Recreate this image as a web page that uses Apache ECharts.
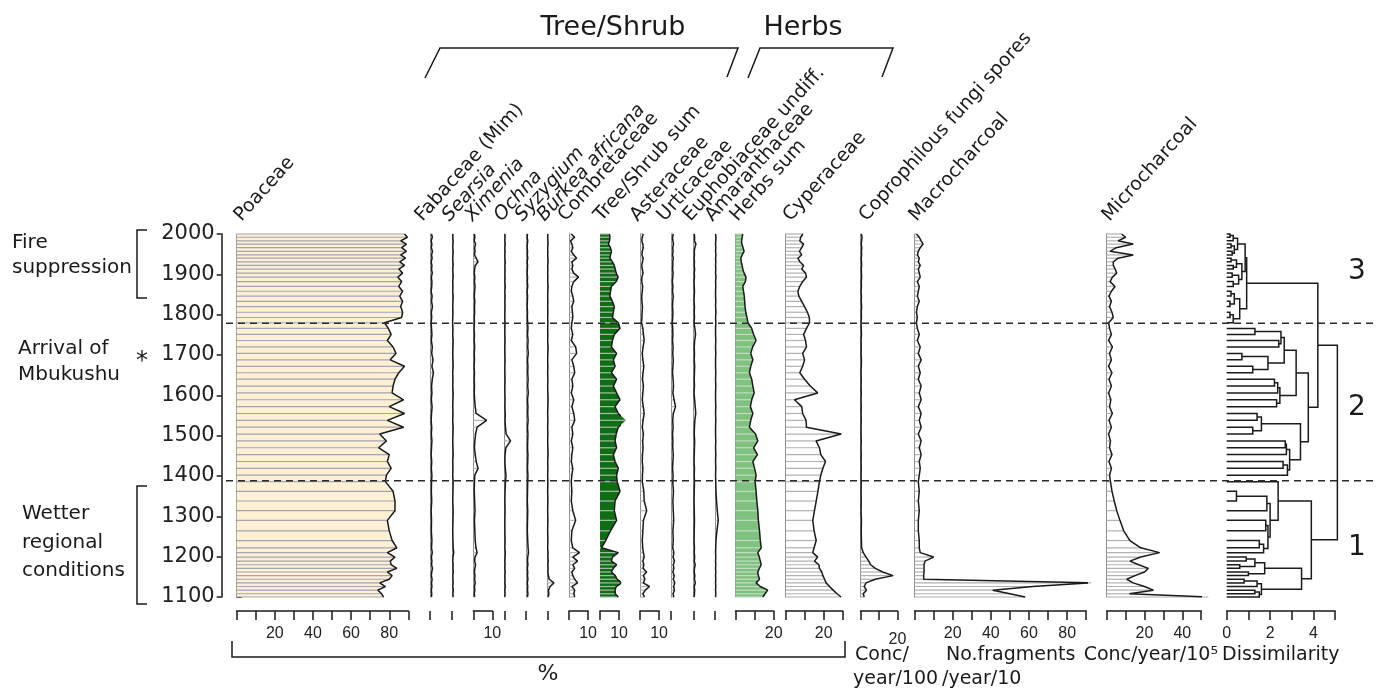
<!DOCTYPE html>
<html>
<head>
<meta charset="utf-8">
<script src="https://cdn.jsdelivr.net/npm/echarts@6/dist/echarts.min.js"></script>
<style>
  html, body { margin: 0; padding: 0; background: #fff; }
  #chart { width: 1376px; height: 688px; }
</style>
</head>
<body>
<div id="chart"></div>
<script>
// Sample ages (years AD), top of core to base
const AGES = [
  2000, 1992, 1983, 1975, 1966, 1957, 1948, 1940, 1931, 1922,
  1913, 1903, 1893, 1882, 1870, 1858, 1846, 1833, 1820, 1806,
  1793, 1780, 1766, 1751, 1736, 1720, 1704, 1688, 1672, 1656,
  1640, 1623, 1606, 1589, 1572, 1555, 1538, 1521, 1504, 1487,
  1470, 1453, 1436, 1419, 1402, 1386, 1362, 1338, 1314, 1290,
  1264, 1240, 1222, 1210, 1199, 1189, 1180, 1171, 1162, 1153,
  1144, 1135, 1126, 1117, 1108, 1100
];

// Pollen percentages
const POACEAE = [
  88, 89.5, 86, 89, 86.5, 89, 86, 88.5, 85.5, 88,
  85, 87, 84.5, 86.5, 85, 87, 85.5, 87, 86, 87,
  86.5, 77.5, 79.5, 81, 79, 82, 83.5, 80.5, 88, 85,
  83, 82, 81.5, 87.5, 80, 88, 79, 87.5, 75, 78.5,
  74.5, 80, 79, 81, 78.5, 78, 82, 83, 83, 79,
  80, 81.5, 84, 79, 83, 80.5, 81, 84, 79, 81.5,
  80, 75, 78, 74, 76, 77
];
const FABACEAE = [
  0.8, 1.2, 0.6, 1.0, 0.7, 1.3, 0.8, 1.1, 0.6, 1.0,
  0.8, 1.2, 0.7, 1.0, 0.9, 0.6, 1.1, 0.8, 1.3, 0.7,
  0.9, 0.6, 0.8, 1.0, 0.7, 1.2, 0.9, 1.6, 1.0, 1.8,
  1.2, 0.8, 1.0, 0.7, 1.1, 0.8, 0.6, 0.9, 0.7, 1.0,
  0.8, 0.6, 0.9, 0.7, 1.0, 0.8, 0.7, 0.9, 0.6, 0.8,
  0.7, 1.0, 0.8, 1.2, 0.7, 1.0, 0.8, 1.3, 0.9, 0.7,
  1.1, 0.8, 1.0, 0.7, 0.9, 0.8
];
const SEARSIA = [
  0.5, 0.4, 0.6, 0.5, 0.4, 0.6, 0.5, 0.4, 0.5, 0.6,
  0.4, 0.5, 0.6, 0.4, 0.5, 0.4, 0.6, 0.5, 0.4, 0.5,
  0.4, 0.3, 0.5, 0.4, 0.6, 0.5, 0.4, 0.5, 0.6, 0.4,
  0.5, 0.4, 0.6, 0.5, 0.4, 0.5, 0.4, 0.6, 0.5, 0.4,
  0.5, 0.6, 0.4, 0.5, 0.4, 0.6, 0.5, 0.4, 0.6, 0.5,
  0.4, 0.5, 0.6, 0.9, 0.5, 0.4, 0.6, 0.5, 0.7, 0.4,
  0.5, 0.6, 0.4, 0.7, 0.5, 0.6
];
const XIMENIA = [
  0.6, 0.8, 0.5, 1.2, 0.7, 0.9, 0.6, 1.5, 2.5, 1.0,
  0.7, 0.5, 0.8, 0.6, 0.9, 0.7, 0.5, 0.8, 0.6, 0.7,
  0.5, 0.6, 0.4, 0.6, 0.5, 0.7, 0.5, 0.6, 0.4, 0.6,
  0.5, 0.6, 0.5, 0.7, 1.0, 1.5, 7.0, 2.0, 1.2, 0.8,
  0.6, 1.0, 1.5, 2.5, 0.8, 0.6, 0.5, 0.7, 0.9, 0.6,
  0.8, 1.0, 1.4, 2.0, 0.9, 0.7, 1.2, 0.8, 0.6, 0.9,
  0.7, 1.0, 0.6, 0.8, 0.5, 0.7
];
const OCHNA = [
  0.3, 0.4, 0.3, 0.5, 0.3, 0.4, 0.3, 0.3, 0.5, 0.3,
  0.4, 0.3, 0.4, 0.3, 0.5, 0.3, 0.4, 0.3, 0.4, 0.3,
  0.3, 0.4, 0.3, 0.3, 0.4, 0.3, 0.3, 0.4, 0.3, 0.3,
  0.4, 0.3, 0.3, 0.4, 0.3, 0.5, 0.4, 0.6, 1.0, 3.3,
  0.8, 0.4, 0.3, 0.5, 0.9, 0.6, 0.4, 0.3, 0.4, 0.3,
  0.3, 0.4, 0.3, 0.5, 0.4, 0.3, 0.4, 0.3, 0.5, 0.3,
  0.4, 0.3, 0.5, 0.3, 0.4, 0.3
];
const SYZYGIUM = [
  0.8, 0.6, 0.9, 0.7, 0.6, 0.8, 0.7, 0.9, 0.6, 0.8,
  0.7, 0.6, 0.8, 0.7, 0.9, 0.6, 0.8, 0.7, 0.6, 0.8,
  0.7, 0.9, 1.0, 0.8, 1.1, 0.9, 1.2, 0.8, 1.0, 0.9,
  1.1, 0.9, 1.2, 0.8, 1.0, 0.9, 1.1, 0.8, 1.0, 0.9,
  0.8, 1.0, 0.9, 0.8, 1.0, 0.9, 0.8, 0.7, 0.9, 0.8,
  0.7, 0.9, 1.1, 1.3, 0.9, 0.8, 1.0, 0.7, 0.9, 0.8,
  1.0, 0.7, 0.9, 0.8, 1.0, 0.8
];
const BURKEA = [
  0.3, 0.2, 0.3, 0.4, 0.2, 0.3, 0.2, 0.3, 0.4, 0.2,
  0.3, 0.2, 0.3, 0.2, 0.4, 0.3, 0.2, 0.3, 0.2, 0.3,
  0.2, 0.3, 0.2, 0.3, 0.2, 0.4, 0.3, 0.2, 0.3, 0.2,
  0.3, 0.2, 0.3, 0.4, 0.3, 0.2, 0.3, 0.2, 0.3, 0.2,
  0.3, 0.4, 0.2, 0.3, 0.2, 0.3, 0.2, 0.3, 0.2, 0.3,
  0.2, 0.3, 0.2, 0.4, 0.3, 0.5, 0.3, 0.4, 0.3, 0.6,
  1.0, 3.5, 1.5, 0.6, 0.8, 0.5
];
const COMBRETACEAE = [
  1.2, 3, 0.8, 1.5, 2, 1.2, 2.5, 4, 1.5, 2,
  1.5, 2.5, 5, 2.5, 1.5, 1.2, 2, 2.5, 1.5, 1.8,
  2, 1.5, 1.2, 2, 1.2, 3.5, 4, 1.5, 2.5, 3,
  1.5, 2, 1.2, 2.5, 1.5, 2.5, 3, 1.5, 2, 1.2,
  2, 1.5, 1.2, 2, 1.5, 1.2, 1.5, 1.2, 2, 3.5,
  1.5, 1.2, 2, 5.5, 2, 4.5, 2, 3, 1.5, 2,
  3, 4.5, 1.5, 3, 2.5, 3
];
const TREE_SHRUB_SUM = [
  5, 5.2, 5, 4.4, 5.5, 6, 5.5, 5.2, 6.5, 7.5,
  8, 8.5, 9.5, 8.5, 6, 5.5, 5.2, 6.5, 7.5, 7,
  6.5, 9.6, 10.5, 7.5, 6.5, 6, 8.7, 7, 7.9, 6,
  8.7, 7, 8.7, 10.5, 7.9, 9.6, 13.6, 9.6, 8.5, 7.9,
  8.7, 7, 7.9, 9.6, 8.7, 9, 10.5, 7.9, 7.5, 8.7,
  5.5, 3, 0.8, 9.6, 6.5, 6, 8.7, 7, 6, 8,
  9, 11.4, 8.5, 7.9, 8, 9.6
];
const ASTERACEAE = [
  1.7, 1.2, 0.9, 1.5, 1.7, 1.2, 1.0, 1.7, 1.3, 0.9,
  1.2, 1.6, 1.0, 0.9, 1.4, 1.2, 0.9, 1.0, 1.3, 1.1,
  1.0, 0.8, 1.5, 1.8, 2.2, 1.6, 1.2, 1.5, 2.0, 1.6,
  1.3, 1.8, 1.5, 1.2, 1.7, 2.2, 1.6, 1.2, 1.8, 1.4,
  1.6, 1.3, 1.2, 1.5, 1.3, 1.2, 2.0, 2.2, 3.5, 1.8,
  1.5, 1.2, 1.4, 1.8, 2.2, 1.5, 2.0, 1.6, 3.5, 1.8,
  2.6, 1.7, 5.0, 2.8, 1.5, 2.4
];
const URTICACEAE = [
  1.2, 0.8, 1.0, 1.3, 0.9, 1.1, 0.8, 1.2, 0.9, 1.0,
  0.8, 1.1, 0.9, 0.7, 1.0, 0.8, 1.2, 0.9, 0.8, 1.0,
  0.9, 0.7, 0.9, 1.0, 0.8, 1.1, 0.9, 1.2, 1.0, 0.8,
  1.1, 1.3, 1.0, 1.6, 2.4, 1.2, 0.9, 1.1, 0.8, 1.0,
  0.9, 1.2, 1.0, 0.8, 1.1, 0.9, 1.3, 1.0, 1.2, 1.4,
  1.0, 1.2, 0.9, 1.5, 1.1, 1.8, 1.2, 1.5, 1.0, 1.7,
  1.2, 2.0, 1.4, 1.8, 1.1, 1.5
];
const EUPHORBIACEAE = [
  0.5, 0.7, 0.6, 1.4, 0.8, 0.5, 0.6, 0.4, 0.6, 0.5,
  0.7, 0.5, 0.6, 0.4, 0.5, 0.6, 0.5, 0.4, 0.6, 0.5,
  0.6, 0.4, 0.8, 1.2, 0.7, 0.5, 0.6, 0.5, 0.7, 0.6,
  0.5, 0.6, 0.4, 0.7, 1.0, 1.3, 0.8, 0.6, 0.5, 0.7,
  0.6, 0.5, 0.4, 0.6, 0.5, 0.6, 0.5, 0.4, 0.5, 0.6,
  0.5, 0.4, 0.6, 0.5, 0.7, 0.5, 1.0, 0.6, 0.5, 0.8,
  0.6, 1.1, 0.5, 0.7, 0.6, 0.5
];
const AMARANTHACEAE = [
  0.3, 0.5, 0.4, 0.3, 0.4, 0.3, 0.5, 0.3, 0.4, 0.3,
  0.4, 0.3, 0.5, 0.3, 0.4, 0.3, 0.3, 0.4, 0.3, 0.5,
  0.3, 0.4, 0.3, 0.3, 0.4, 0.3, 0.4, 0.3, 0.3, 0.4,
  0.3, 0.4, 0.3, 0.3, 0.4, 0.3, 0.4, 0.3, 0.3, 0.4,
  0.3, 0.4, 0.3, 0.4, 0.3, 0.4, 0.5, 0.8, 1.2, 1.7,
  1.0, 0.5, 0.4, 0.3, 0.4, 0.3, 0.4, 0.3, 0.4, 0.3,
  0.4, 0.3, 0.4, 0.3, 0.4, 0.3
];
const HERBS_SUM = [
  3.8, 3.5, 3.2, 3.3, 4, 4.5, 3.5, 2.8, 3, 3.5,
  3.8, 4.5, 5.5, 5.2, 3.8, 4.2, 4.6, 4.8, 5, 5.4,
  6, 6.5, 8.5, 9.5, 10.8, 9, 8, 9.1, 8, 7.3,
  8.5, 9.1, 9.8, 8.5, 7.8, 9.1, 8, 7.3, 10.5, 11.7,
  9.5, 11.5, 9.1, 10, 10.8, 10.3, 10.8, 11.2, 11.7, 12,
  12.6, 13, 13.5, 11.7, 12.5, 13, 13.5, 12.5, 11.7, 12,
  12.6, 10.8, 13, 16.9, 15.5, 14.3
];
const CYPERACEAE = [
  9.1, 8, 7.5, 9.5, 8.5, 7.3, 8.5, 6.5, 7.5, 9.5,
  8.5, 10.5, 11, 9, 7.5, 6.5, 7, 8.5, 10, 11.5,
  12.5, 12.6, 11, 9.5, 10.5, 11, 9, 10, 9, 7.5,
  10, 13, 16.9, 4.7, 8.5, 9, 10.8, 11, 29.2, 16,
  17.8, 18.5, 21, 19.6, 18.5, 17.8, 17, 16.1, 15.2, 14.3,
  15, 16.1, 15, 14.3, 16.9, 15.2, 17.5, 17.8, 19, 19.6,
  20.5, 21.3, 23.1, 25, 27, 29.2
];

// Non-pollen proxies
const COPROPHILOUS = [
  0.5, 0.8, 0.6, 0.4, 0.7, 0.5, 0.6, 0.4, 0.5, 0.6,
  0.4, 0.5, 0.6, 0.4, 0.5, 0.3, 0.5, 0.4, 0.6, 0.4,
  0.5, 0.3, 0.4, 0.5, 0.3, 0.4, 0.3, 0.5, 0.4, 0.3,
  0.4, 0.3, 0.4, 0.3, 0.4, 0.3, 0.4, 0.3, 0.3, 0.4,
  0.3, 0.4, 0.3, 0.4, 0.3, 0.4, 0.3, 0.4, 0.3, 0.5,
  0.4, 0.5, 0.6, 1.5, 3, 4.5, 5.5, 8, 12, 17.6,
  8, 3, 2, 3.2, 1.5, 2
];
const MACROCHARCOAL = [
  1, 2.5, 3.5, 4.5, 3, 2, 1.5, 2.5, 2, 3,
  2, 2.5, 3, 1.5, 2.5, 2, 1.5, 2.5, 1.5, 1,
  1.5, 1, 1.5, 2.5, 1.5, 3, 2, 3.5, 2, 3,
  2, 3.5, 2.5, 3.5, 2, 3.5, 2.5, 3.5, 2, 3.5,
  2.5, 3.5, 2.5, 3, 2.5, 2, 2.5, 2, 2.5, 2,
  2, 2.5, 2.5, 3, 10, 5.5, 5, 5, 5, 4.8,
  4.8, 92.6, 62, 41, 50, 58
];
const MICROCHARCOAL = [
  7.9, 10, 6, 14, 5, 1.8, 14, 6, 3.5, 3.5,
  4.5, 5.3, 3, 1.8, 4.4, 2.5, 1.2, 2.5, 1.5, 2.8,
  3.5, 1, 1.5, 2.5, 1, 3, 1.5, 2.5, 1, 2.8,
  1.2, 2.5, 1, 2.2, 1.5, 3, 1.2, 2.5, 1, 2,
  1.5, 2.8, 1.2, 2.5, 1.5, 2, 2.8, 4, 5.3, 7,
  9, 12.3, 18, 28, 18, 12.3, 17, 22, 20, 15,
  10.6, 14, 20, 24.7, 12, 53.8
];

// Constrained cluster tree: [height, childA, childB]; leaves are sample indices
const ZONE3_TREE = [0.92,
  [0.85,
    [0.5, [0.3, [0.15, 0, 1], 2], [0.35, [0.2, 3, 4], [0.25, 5, 6]]],
    [0.7, [0.45, [0.2, 7, 8], [0.3, 9, 10]], [0.55, [0.25, 11, 12], [0.3, 13, 14]]]],
  [0.6, [0.35, [0.2, 15, 16], [0.15, 17, 18]], [0.3, [0.15, 19, 20], 21]]];
const ZONE2_TREE = [3.76,
  [3.2,
    [2.65, [2.5, [1.3, 22, 23], [2.4, 24, 25]], [1.9, [0.7, 26, 27], [1.2, 28, 29]]],
    [2.45, [2.35, [2.2, 30, 31], 32], [2.3, 33, 34]]],
  [3.4,
    [1.6, [1.4, 35, 36], [1.2, 37, 38]],
    [2.9, [2.75, [2.7, 39, 40], 41], [2.8, [2.6, 42, 43], 44]]]];
const ZONE1_TREE = [3.9,
  [2.37, 45, [2.0, [1.85, [0.45, 46, 47], 48], [1.9, [1.8, 49, 50], [1.7, [1.5, 51, 52], 53]]]],
  [3.45, [1.75, [1.3, [0.9, 54, 55], [0.6, 56, 57]], [1.0, 58, 59]],
         [1.6, [1.4, [0.8, 60, 61], 62], [1.5, [1.3, 63, 64], 65]]]];
const CLUSTER_TREE = [5.1, [4.2, ZONE3_TREE, ZONE2_TREE], ZONE1_TREE];

const ZONE_BOUNDARIES = [1779, 1388];
const ZONE_LABELS = ['3', '2', '1'];

const TAXA = ['Poaceae', 'Fabaceae (Mim)', 'Searsia', 'Ximenia', 'Ochna', 'Syzygium',
  'Burkea africana', 'Combretaceae', 'Tree/Shrub sum', 'Asteraceae', 'Urticaceae',
  'Euphobiaceae undiff.', 'Amaranthaceae', 'Herbs sum', 'Cyperaceae',
  'Coprophilous fungi spores', 'Macrocharcoal', 'Microcharcoal'];
const ITALIC_TAXA = ['Searsia', 'Ximenia', 'Ochna', 'Syzygium', 'Burkea africana'];

// ---- layout ----
const PCT = 1.907;           // px per percent
const TOP = 234, PLOT_H = 363;
const FONT = '"DejaVu Sans", Verdana, sans-serif';
const INK = '#1a1a1a';

const panels = [
  { series: POACEAE, left: 236.7, max: 90, scale: PCT, fill: '#fdf0d3', hatch: '#a3a3b6', interval: 10, labels: [20, 40, 60, 80] },
  { series: FABACEAE, left: 430, max: 5, scale: PCT, hatch: '#b0b0b0', single: true },
  { series: SEARSIA, left: 452, max: 5, scale: PCT, hatch: '#b0b0b0', single: true },
  { series: XIMENIA, left: 473.3, max: 10, scale: PCT, hatch: '#b0b0b0', interval: 10, labels: [10] },
  { series: OCHNA, left: 504.3, max: 5, scale: PCT, hatch: '#b0b0b0', single: true },
  { series: SYZYGIUM, left: 526, max: 5, scale: PCT, hatch: '#b0b0b0', single: true },
  { series: BURKEA, left: 547.3, max: 5, scale: PCT, hatch: '#b0b0b0', single: true },
  { series: COMBRETACEAE, left: 569, max: 10, scale: PCT, hatch: '#b0b0b0', interval: 10, labels: [10] },
  { series: TREE_SHRUB_SUM, left: 600, max: 10, scale: PCT, fill: '#0f6e14', hatch: '#a9bba9', interval: 10, labels: [10] },
  { series: ASTERACEAE, left: 640, max: 10, scale: PCT, hatch: '#b0b0b0', interval: 10, labels: [10] },
  { series: URTICACEAE, left: 671, max: 5, scale: PCT, hatch: '#b0b0b0', single: true },
  { series: EUPHORBIACEAE, left: 693.3, max: 5, scale: PCT, hatch: '#b0b0b0', single: true },
  { series: AMARANTHACEAE, left: 715, max: 5, scale: PCT, hatch: '#b0b0b0', single: true },
  { series: HERBS_SUM, left: 735.5, max: 20, scale: PCT, fill: '#7fc27f', hatch: '#c4dcc4', interval: 10, labels: [20] },
  { series: CYPERACEAE, left: 785.5, max: 30, scale: PCT, hatch: '#b0b0b0', interval: 10, labels: [20] },
  { series: COPROPHILOUS, left: 860.5, max: 20, scale: 1.85, hatch: '#b0b0b0', interval: 10, labels: [20], labelMargin: 21 },
  { series: MACROCHARCOAL, left: 914.5, max: 90, scale: 1.908, hatch: '#b0b0b0', interval: 10, labels: [20, 40, 60, 80] },
  { series: MICROCHARCOAL, left: 1106.7, max: 50, scale: 1.89, hatch: '#b0b0b0', interval: 10, labels: [20, 40] },
  { left: 1226.7, max: 5, scale: 21.7, interval: 1, labels: [0, 2, 4], noBaseline: true }
];
const HEADER_X = [245, 426, 453, 476, 505, 526, 548, 569, 605, 641, 668, 694, 716, 741, 794, 870, 920, 1113];

const grid = [], xAxis = [], yAxis = [], series = [];

function hatchRenderer(p) {
  return function (params, api) {
    const children = [];
    if (params.dataIndex === 0 && p.fill) {
      const pts = [api.coord([0, AGES[0]])];
      p.series.forEach((v, k) => pts.push(api.coord([v, AGES[k]])));
      pts.push(api.coord([0, AGES[AGES.length - 1]]));
      children.push({ type: 'polygon', shape: { points: pts }, style: { fill: p.fill } });
    }
    const a = api.coord([0, api.value(1)]);
    const b = api.coord([api.value(0), api.value(1)]);
    children.push({ type: 'line', shape: { x1: a[0], y1: a[1], x2: b[0], y2: b[1] },
      style: { stroke: p.hatch, lineWidth: 1.2 } });
    return { type: 'group', children };
  };
}

panels.forEach((p, i) => {
  grid.push({ left: p.left, top: TOP, width: p.max * p.scale, height: PLOT_H, outerBoundsMode: 'none', containLabel: false });
  xAxis.push({
    gridIndex: i, type: 'value', min: 0, max: p.max, interval: p.interval || p.max,
    position: 'bottom', offset: 14,
    axisLine: { show: !p.single, onZero: false, lineStyle: { color: INK, width: 1.5 } },
    axisTick: { show: true, length: 9, lineStyle: { color: INK, width: 1.5 }, customValues: p.single ? [0] : undefined },
    axisLabel: { show: !!p.labels, customValues: p.labels, margin: p.labelMargin || 15,
      fontSize: 16, fontFamily: 'Liberation Sans', color: '#222' },
    splitLine: { show: false }
  });
  yAxis.push({
    gridIndex: i, type: 'value', min: 1100, max: 2000,
    axisLine: { show: !p.noBaseline, onZero: false, lineStyle: { color: '#8e8e8e', width: 1 } },
    axisTick: { show: false }, axisLabel: { show: false }, splitLine: { show: false }
  });
  if (p.series) {
    const pairs = p.series.map((v, k) => [v, AGES[k]]);
    series.push({ type: 'custom', xAxisIndex: i, yAxisIndex: i, data: pairs,
      renderItem: hatchRenderer(p), silent: true, z: 2 });
    series.push({ type: 'line', xAxisIndex: i, yAxisIndex: i, data: pairs, symbol: 'none',
      clip: false, silent: true, z: 3, lineStyle: { color: INK, width: 1.5 } });
  }
});

// Age scale, offset left of the Poaceae panel
yAxis.push({
  gridIndex: 0, type: 'value', min: 1100, max: 2000, interval: 100, position: 'left', offset: 15,
  axisLine: { show: true, onZero: false, lineStyle: { color: INK, width: 1.5 } },
  axisTick: { show: true, length: 5, lineStyle: { color: INK, width: 1.5 } },
  axisLabel: { margin: 7, fontSize: 21, fontFamily: FONT, color: '#222', formatter: v => String(v) },
  splitLine: { show: false }
});
// Sample positions as inward ticks
yAxis.push({
  gridIndex: 0, type: 'value', min: 1100, max: 2000, position: 'left', offset: 15,
  axisLine: { show: false },
  axisTick: { show: true, inside: true, length: 5, customValues: AGES, lineStyle: { color: INK, width: 1 } },
  axisLabel: { show: false }, splitLine: { show: false }
});

// Dendrogram segments
const dendro = [];
function walk(node) {
  if (typeof node === 'number') return { y: AGES[node], h: 0 };
  const a = walk(node[1]), b = walk(node[2]);
  dendro.push({ coords: [[a.h, a.y], [node[0], a.y], [node[0], b.y], [b.h, b.y]] });
  return { y: (a.y + b.y) / 2, h: node[0] };
}
walk(CLUSTER_TREE);
const D = panels.length - 1;
series.push({ type: 'lines', coordinateSystem: 'cartesian2d', xAxisIndex: D, yAxisIndex: D,
  polyline: true, clip: false, data: dendro, silent: true, z: 3,
  lineStyle: { color: INK, width: 1.5, opacity: 1 } });

const chart = echarts.init(document.getElementById('chart'), null, { renderer: 'canvas' });
chart.setOption({ animation: false, backgroundColor: '#fff', grid, xAxis, yAxis, series });

// ---- annotations ----
const g = [];
function text(str, x, y, opts) {
  opts = opts || {};
  g.push({ type: 'text', x, y, rotation: opts.rot || 0, silent: true, z: 50,
    style: { text: str, font: (opts.style || '') + ' ' + (opts.size || 20) + 'px ' + FONT, fill: INK,
      align: opts.align || 'left', verticalAlign: opts.va || 'middle',
      textAlign: opts.align || 'left', textVerticalAlign: opts.va || 'middle' } });
}
function poly(points, extra) {
  g.push(Object.assign({ type: 'polyline', silent: true, z: 50, shape: { points },
    style: { stroke: INK, lineWidth: 1.5, fill: null } }, extra || {}));
}

const ROT = 48 * Math.PI / 180;
TAXA.forEach((name, i) => {
  text(name, HEADER_X[i], 225, { rot: ROT, va: 'bottom', size: 19, style: ITALIC_TAXA.includes(name) ? 'italic' : '' });
});

text('Tree/Shrub', 613, 28, { size: 27, align: 'center' });
text('Herbs', 803, 28, { size: 27, align: 'center' });
poly([[425, 78], [440, 48], [738, 48], [727, 77]]);
poly([[748, 78], [760, 48], [893, 48], [882, 77]]);

text('Fire', 12, 243);
text('suppression', 12, 268);
poly([[147, 230], [137, 230], [137, 298], [147, 298]]);
text('Arrival of', 18, 349);
text('Mbukushu', 18, 375);
text('*', 142, 362, { size: 24, align: 'center' });
text('Wetter', 22, 514);
text('regional', 22, 543);
text('conditions', 22, 571);
poly([[147, 486], [137, 486], [137, 604], [147, 604]]);

poly([[232, 641], [232, 657], [845, 657], [845, 641]]);
text('%', 548, 674, { size: 22, align: 'center' });
text('Conc/', 855, 655, { size: 19 });
text('year/100', 853, 679, { size: 19 });
text('No.fragments', 946, 655, { size: 19 });
text('/year/10', 942, 679, { size: 19 });
text('Conc/year/10\u2075', 1218, 655, { size: 19, align: 'right' });
text('Dissimilarity', 1222, 655, { size: 19 });

[272, 408, 548].forEach((y, k) => text(ZONE_LABELS[k], 1357, y, { size: 28, align: 'center' }));

ZONE_BOUNDARIES.forEach(age => {
  const y = chart.convertToPixel({ yAxisIndex: 0 }, age);
  g.push({ type: 'line', silent: true, z: 60, shape: { x1: 226, y1: y, x2: 1376, y2: y },
    style: { stroke: '#2a2a2a', lineWidth: 1.5, lineDash: [7, 5] } });
});

chart.setOption({ graphic: g });
</script>
</body>
</html>
